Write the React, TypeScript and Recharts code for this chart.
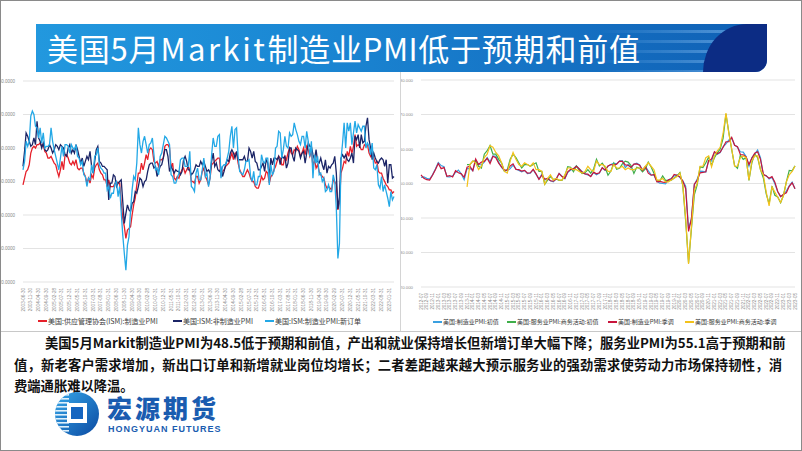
import React from "react";
import { LineChart, Line, XAxis, YAxis, CartesianGrid } from "recharts";

// ---------- LEFT CHART DATA (monthly, 2003-06 .. 2023-04) ----------
const LEFT_START_YEAR = 2003;
const LEFT_START_MONTH = 6;

const ismMfg = [
  49.0, 51.0, 53.0, 53.5, 55.0, 58.5, 60.0,
  60.5, 60.0, 61.0, 61.0, 61.5, 60.5, 61.0, 59.0, 58.5, 57.0, 57.0, 57.5,
  56.5, 55.5, 55.0, 53.0, 51.5, 53.5, 56.0, 53.5, 58.0, 58.0, 57.0, 55.5,
  55.0, 56.0, 55.0, 56.5, 54.0, 53.5, 54.0, 54.0, 52.5, 51.5, 49.5, 51.0,
  49.5, 52.0, 51.0, 54.0, 55.0, 55.5, 53.5, 52.5, 52.0, 50.5, 50.5, 48.5,
  50.5, 48.5, 48.5, 48.5, 49.5, 50.0, 49.5, 49.5, 43.5, 39.0, 36.5, 33.0,
  35.5, 36.0, 36.5, 40.0, 43.0, 45.0, 49.0, 52.5, 52.5, 55.5, 53.5, 55.5,
  58.0, 56.5, 59.5, 60.0, 59.5, 56.0, 55.5, 56.0, 54.5, 56.5, 56.5, 57.0,
  60.5, 61.0, 61.0, 60.0, 54.0, 55.5, 51.0, 50.5, 51.5, 51.0, 52.5, 53.5,
  54.0, 52.5, 53.5, 54.5, 53.5, 50.0, 50.0, 49.5, 51.5, 51.5, 49.5, 50.5,
  53.0, 54.0, 51.5, 50.5, 49.0, 51.0, 55.0, 55.5, 56.0, 56.5, 57.0, 57.0,
  51.5, 53.0, 53.5, 54.5, 55.0, 55.5, 57.0, 58.5, 56.5, 58.5, 58.5, 55.5,
  53.5, 52.5, 51.5, 51.5, 52.5, 53.5, 52.5, 51.0, 50.0, 50.0, 48.5, 48.0,
  48.0, 49.5, 51.5, 50.5, 51.0, 53.0, 52.5, 49.5, 51.5, 52.0, 53.5, 54.5,
  56.0, 57.5, 57.0, 55.0, 55.0, 57.5, 56.5, 58.5, 60.0, 58.5, 58.0, 59.5,
  59.0, 60.5, 59.5, 57.5, 58.5, 60.0, 58.0, 60.5, 59.5, 57.5, 59.0, 54.5,
  56.5, 54.0, 55.0, 53.0, 52.0, 51.5, 51.0, 49.0, 48.0, 48.5, 48.0, 47.5,
  50.5, 50.0, 49.0, 41.5, 43.5, 52.5, 54.0, 56.0, 55.5, 59.0, 57.5, 60.5,
  58.5, 60.5, 64.0, 60.5, 61.0, 60.5, 59.5, 59.5, 61.0, 60.5, 61.0, 58.5,
  57.5, 58.5, 57.0, 55.5, 56.0, 53.0, 52.5, 52.5, 51.0, 50.0, 49.0, 48.5,
  47.5, 47.5, 46.5, 47.0,
];

const ismNonMfg = [
  54.5, 59.0, 64.5, 63.5, 62.0, 60.5, 61.0,
  63.0, 61.0, 68.0, 63.0, 62.0, 60.0, 61.5, 59.5, 59.0, 59.5, 61.0, 60.0,
  58.5, 59.5, 61.0, 60.5, 59.5, 61.0, 60.5, 60.0, 58.0, 57.5, 60.0, 61.0,
  58.5, 59.5, 58.5, 61.0, 59.5, 57.5, 55.5, 57.0, 54.5, 56.0, 57.5, 56.5,
  59.0, 54.5, 52.5, 56.0, 59.5, 60.5, 56.0, 55.5, 54.5, 54.5, 54.0, 53.5,
  44.5, 49.5, 49.5, 52.0, 51.5, 48.5, 49.5, 50.0, 50.5, 44.0, 37.5, 40.5,
  43.0, 41.5, 41.0, 43.5, 44.0, 47.0, 46.5, 48.5, 51.0, 50.5, 48.5, 50.0,
  50.5, 53.0, 55.0, 55.5, 55.5, 54.0, 54.5, 51.5, 53.0, 54.5, 55.0, 57.0,
  59.5, 59.5, 57.5, 53.0, 54.5, 53.5, 52.5, 53.5, 53.0, 53.0, 52.0, 53.0,
  56.5, 57.5, 56.0, 53.5, 53.5, 52.0, 52.5, 53.5, 55.0, 54.5, 54.5, 56.0,
  55.0, 56.0, 54.5, 53.0, 53.5, 52.5, 56.0, 58.5, 54.5, 55.5, 53.5, 53.0,
  54.0, 51.5, 53.0, 55.0, 56.5, 56.0, 58.5, 59.5, 58.5, 57.0, 59.0, 56.5,
  56.5, 56.5, 56.5, 57.5, 56.0, 56.0, 60.0, 59.0, 57.0, 59.0, 56.0, 55.5,
  53.5, 53.5, 54.5, 55.5, 53.0, 56.5, 55.5, 51.5, 57.0, 55.0, 57.0, 57.0,
  56.5, 57.5, 55.0, 57.5, 57.0, 57.5, 54.0, 55.5, 60.0, 60.0, 57.5, 56.0,
  60.0, 59.5, 59.0, 57.0, 58.5, 59.0, 55.5, 58.5, 61.5, 60.5, 60.5, 58.0,
  56.5, 59.5, 56.0, 55.5, 57.0, 55.0, 53.5, 56.5, 52.5, 54.5, 54.0, 55.0,
  55.5, 57.5, 52.5, 41.8, 45.5, 57.0, 58.0, 57.0, 58.0, 56.5, 56.0, 57.0,
  58.5, 55.5, 63.5, 62.5, 64.0, 60.0, 64.0, 61.5, 62.0, 66.5, 69.0, 62.5,
  60.0, 56.5, 58.5, 57.0, 56.0, 55.5, 56.5, 57.0, 56.5, 54.5, 56.5, 49.5,
  55.0, 55.0, 51.0, 51.5,
];

const ismNewOrders = [
  53.5, 56.0, 62.0, 60.5, 62.0, 69.5, 71.0,
  70.0, 66.5, 66.0, 63.0, 66.0, 61.5, 64.5, 60.0, 60.5, 60.5, 61.0, 66.0,
  62.0, 59.5, 57.5, 55.5, 53.5, 57.0, 60.5, 57.5, 61.0, 61.0, 60.5, 58.5,
  61.0, 60.0, 59.5, 61.0, 57.5, 57.0, 55.0, 56.0, 52.0, 51.5, 48.5, 51.0,
  50.5, 55.0, 52.5, 57.5, 58.0, 60.0, 55.0, 54.0, 53.5, 52.5, 52.5, 47.5,
  48.5, 45.0, 46.5, 46.5, 49.5, 50.0, 45.5, 48.5, 41.0, 34.0, 28.5, 23.5,
  31.0, 33.5, 41.5, 47.5, 51.5, 50.5, 55.5, 66.0, 61.0, 58.5, 62.0, 63.5,
  61.0, 58.5, 61.0, 61.5, 63.0, 58.0, 53.5, 54.0, 52.0, 57.5, 58.5, 61.0,
  63.5, 63.0, 62.0, 61.0, 52.0, 51.5, 49.5, 49.5, 51.0, 52.5, 56.5, 57.0,
  57.0, 54.5, 54.5, 54.5, 59.0, 48.5, 48.0, 47.0, 52.5, 54.0, 50.5, 50.5,
  53.5, 57.0, 51.5, 52.5, 48.5, 51.0, 58.0, 63.0, 60.5, 60.5, 63.5, 64.0,
  51.0, 54.5, 55.0, 55.0, 57.0, 59.0, 63.5, 66.5, 60.0, 65.5, 66.0, 57.5,
  53.0, 52.5, 52.0, 53.5, 56.0, 56.0, 56.5, 51.5, 50.0, 53.0, 49.0, 49.0,
  51.5, 51.5, 58.0, 56.0, 55.5, 57.0, 57.0, 49.0, 55.0, 52.0, 53.0, 60.0,
  60.5, 65.0, 64.5, 57.0, 59.5, 63.5, 60.5, 60.0, 64.5, 63.5, 64.0, 67.5,
  65.5, 64.0, 62.0, 61.0, 63.5, 63.5, 60.0, 65.0, 62.0, 57.5, 62.0, 51.0,
  58.0, 55.5, 57.5, 52.0, 52.5, 50.0, 51.0, 47.0, 47.5, 49.0, 47.0, 47.0,
  52.0, 50.0, 42.0, 27.0, 31.5, 56.5, 61.5, 67.5, 60.0, 67.5, 65.0, 67.5,
  61.0, 64.5, 68.0, 64.5, 67.0, 66.0, 65.0, 66.5, 66.5, 60.0, 61.5, 60.5,
  58.0, 61.5, 54.0, 53.5, 55.0, 49.0, 48.0, 51.5, 47.0, 49.0, 47.0, 45.0,
  42.5, 47.0, 44.5, 45.5,
];

// ---------- RIGHT CHART DATA (monthly, 2012-07 .. 2023-05) ----------
const RIGHT_START_YEAR = 2012;
const RIGHT_START_MONTH = 7;
const SERVICES_OFFSET = 16; // services series begin 2013-11

const mfgFlash = [
  51.8, 51.9, 51.5, 51.3, 52.5, 54.2,
  56.1, 55.2, 54.9, 52.0, 51.9, 52.2, 53.2, 53.9, 52.8, 51.1, 54.3, 54.4,
  53.7, 56.7, 55.5, 55.4, 56.2, 57.5, 56.3, 58.0, 57.9, 56.2, 54.7, 53.7,
  53.7, 54.3, 55.3, 54.2, 53.8, 53.4, 53.8, 52.9, 53.0, 54.0, 52.6, 51.3,
  52.7, 51.0, 51.4, 50.8, 50.5, 51.4, 52.9, 52.1, 51.4, 53.2, 53.9, 54.2,
  55.1, 54.3, 53.4, 52.8, 52.5, 52.1, 53.2, 52.5, 53.0, 54.5, 53.8, 55.0,
  55.5, 55.9, 55.7, 56.5, 56.6, 54.6, 55.5, 54.5, 55.6, 55.9, 55.4, 53.9,
  54.9, 53.7, 52.5, 52.4, 50.6, 50.1, 50.0, 49.9, 51.0, 51.5, 52.2, 52.5,
  51.7, 50.8, 49.2, 36.9, 39.8, 49.6, 51.3, 53.6, 53.5, 53.3, 56.7, 56.5,
  59.1, 58.5, 59.0, 60.6, 61.5, 62.6, 63.1, 61.2, 60.5, 59.2, 59.1, 57.8,
  55.0, 57.5, 58.5, 59.7, 57.5, 52.4, 52.3, 51.3, 51.8, 49.9, 47.6, 46.2,
  46.8, 47.8, 49.3, 50.4, 48.5,
];

const mfgFinal = [
  52.5, 51.5, 51.1, 51.0, 52.4, 54.0,
  55.8, 54.3, 54.6, 52.1, 52.3, 51.9, 53.7, 53.1, 52.8, 51.8, 54.7, 55.0,
  53.7, 57.1, 55.5, 56.2, 56.4, 57.3, 55.8, 57.9, 57.5, 55.9, 54.8, 53.9,
  53.9, 55.1, 55.7, 54.1, 54.0, 53.6, 53.8, 53.0, 53.1, 54.1, 52.8, 51.2,
  52.4, 51.3, 51.5, 50.8, 50.7, 51.3, 52.9, 52.0, 51.5, 53.4, 54.1, 54.3,
  55.0, 54.2, 53.3, 52.8, 52.7, 52.0, 53.3, 52.8, 53.1, 54.6, 53.9, 55.1,
  55.5, 55.3, 55.6, 56.5, 56.4, 55.4, 55.3, 54.7, 55.6, 55.7, 55.3, 53.8,
  54.9, 53.0, 52.4, 52.6, 50.5, 50.6, 50.4, 50.3, 51.1, 51.3, 52.6, 52.4,
  51.9, 50.7, 48.5, 36.1, 39.8, 49.8, 50.9, 53.1, 53.2, 53.4, 56.7, 57.1,
  59.2, 58.6, 59.1, 60.5, 62.1, 62.1, 63.4, 61.1, 60.7, 58.4, 58.3, 57.7,
  55.5, 57.3, 58.8, 59.2, 57.0, 52.7, 52.2, 51.5, 52.0, 50.4, 47.7, 46.2,
  46.9, 47.3, 49.2, 50.2, 48.5,
];

const svcFlash = [
  55.5, 55.5,
  56.5, 56.5, 55.0, 54.5, 58.5, 59.5, 61.0, 58.5, 58.5, 57.0, 56.0, 53.5,
  54.0, 57.0, 58.5, 57.5, 56.0, 54.5, 55.5, 55.5, 55.0, 55.5, 56.0, 53.5,
  53.5, 49.8, 51.0, 52.0, 51.2, 51.3, 50.9, 50.9, 52.3, 54.9, 54.7, 53.4,
  55.1, 53.9, 52.9, 53.1, 54.0, 53.0, 54.2, 57.0, 55.1, 55.9, 54.7, 52.4,
  53.6, 55.9, 54.1, 54.4, 55.7, 56.5, 56.2, 55.2, 52.9, 54.7, 54.4, 53.4,
  54.2, 56.2, 54.8, 52.9, 50.9, 50.7, 52.2, 50.9, 50.9, 51.0, 51.6, 52.2,
  53.2, 49.4, 39.1, 27.0, 36.9, 46.7, 49.6, 54.8, 54.6, 56.0, 57.7, 55.3,
  57.5, 58.9, 60.0, 63.1, 70.1, 64.8, 59.8, 55.2, 54.4, 58.2, 57.0, 57.5,
  50.9, 56.0, 58.5, 57.5, 54.0, 51.6, 47.0, 44.1, 49.2, 46.6, 46.1, 44.4,
  46.6, 50.5, 53.8, 53.7, 55.1,
];

const svcFinal = [
  49.0, 55.5,
  56.5, 56.0, 54.0, 55.0, 57.5, 58.5, 61.0, 60.5, 59.0, 58.0, 56.0, 53.5,
  53.0, 56.5, 59.0, 57.0, 55.5, 55.0, 56.0, 55.5, 55.0, 56.0, 54.0, 54.0,
  53.5, 49.8, 51.5, 52.5, 51.0, 51.5, 51.0, 51.0, 52.5, 54.5, 54.5, 54.0,
  54.0, 53.5, 53.0, 53.5, 55.0, 54.0, 53.5, 56.5, 55.5, 55.5, 55.0, 53.5,
  53.5, 55.5, 54.5, 54.5, 55.0, 54.0, 54.5, 54.0, 54.0, 54.5, 54.5, 54.0,
  55.0, 56.0, 55.0, 54.0, 51.0, 51.0, 51.5, 50.5, 50.5, 51.0, 51.5, 52.0,
  53.0, 49.5, 40.0, 26.7, 37.5, 48.0, 50.0, 55.0, 55.0, 57.5, 58.0, 54.8,
  58.0, 59.5, 60.5, 64.5, 70.4, 64.5, 60.0, 55.0, 55.0, 57.5, 58.0, 57.5,
  51.0, 56.5, 58.0, 58.0, 54.0, 52.5, 47.5, 43.5, 49.0, 47.5, 46.0, 44.5,
  46.5, 50.5, 52.5, 53.5, 55.1,
];

const Y_TICKS = [20, 30, 40, 50, 60, 70, 80];

const LEFT_LEGEND = [
  { name: "美国:供应管理协会(ISM):制造业PMI", color: "#e6202a", x: 38 },
  { name: "美国:ISM:非制造业PMI", color: "#1b2466", x: 173 },
  { name: "美国:ISM:制造业PMI:新订单", color: "#23a8e6", x: 265 },
];
const RIGHT_LEGEND = [
  { name: "美国:制造业PMI:初值", color: "#3aa0e0", x: 433 },
  { name: "美国:服务业PMI:商务活动:初值", color: "#3fae49", x: 507 },
  { name: "美国:制造业PMI:季调", color: "#c8153c", x: 608 },
  { name: "美国:服务业PMI:商务活动:季调", color: "#f3c21b", x: 685 },
];

const PARA_LINES = [
  "美国5月Markit制造业PMI为48.5低于预期和前值，产出和就业保持增长但新增订单大幅下降；服务业PMI为55.1高于预期和前",
  "值，新老客户需求增加，新出口订单和新增就业岗位均增长；二者差距越来越大预示服务业的强劲需求使劳动力市场保持韧性，消",
  "费端通胀难以降温。",
];

// ---------- helpers ----------
function monthLabels(y0: number, m0: number, n: number, withDay: boolean): string[] {
  const out: string[] = [];
  for (let i = 0; i < n; i++) {
    const idx = m0 - 1 + i;
    const y = y0 + Math.floor(idx / 12);
    const m = (idx % 12) + 1;
    const d = new Date(y, m, 0).getDate();
    out.push(withDay ? `${y}-${String(m).padStart(2, "0")}-${d}` : `${y}-${String(m).padStart(2, "0")}`);
  }
  return out;
}

const leftDates = monthLabels(LEFT_START_YEAR, LEFT_START_MONTH, ismMfg.length, true);
const rightDates = monthLabels(RIGHT_START_YEAR, RIGHT_START_MONTH, mfgFinal.length, false);

const leftData = leftDates.map((d, i) => ({
  date: d,
  mfg: ismMfg[i],
  nonMfg: ismNonMfg[i],
  newOrders: ismNewOrders[i],
}));

const rightData = rightDates.map((d, i) => ({
  date: d,
  mfgFlash: mfgFlash[i],
  svcFlash: i >= SERVICES_OFFSET ? svcFlash[i - SERVICES_OFFSET] : null,
  mfgFinal: mfgFinal[i],
  svcFinal: i >= SERVICES_OFFSET ? svcFinal[i - SERVICES_OFFSET] : null,
}));

const DateTick = (props: any) => {
  const { x, y, payload, fs } = props;
  return (
    <text
      transform={`translate(${x},${y + 4}) rotate(-90)`}
      textAnchor="end"
      dominantBaseline="central"
      fontSize={fs}
      fill="#8a8a8a"
      fontFamily="'Liberation Sans', Arial, sans-serif"
    >
      {payload.value}
    </text>
  );
};

const CJK = "'Noto Sans CJK SC', sans-serif";

function LegendRow({ items, fontSize, top }: { items: any[]; fontSize: number; top: number }) {
  return (
    <>
      {items.map((it) => (
        <div
          key={it.name}
          style={{
            position: "absolute",
            left: it.x,
            top,
            height: 12,
            display: "flex",
            alignItems: "center",
            whiteSpace: "nowrap",
          }}
        >
          <div style={{ width: 9, height: 2, background: it.color, marginRight: 1 }} />
          <span style={{ fontSize, color: "#3a3a3a", fontFamily: CJK, lineHeight: "12px" }}>{it.name}</span>
        </div>
      ))}
    </>
  );
}

export default function App() {
  return (
    <div
      style={{
        position: "fixed",
        left: 0,
        top: 0,
        width: 802,
        height: 451,
        background: "#ffffff",
        overflow: "hidden",
        fontFamily: CJK,
      }}
    >
      {/* Title bar */}
      <div
        style={{
          position: "absolute",
          left: 36,
          top: 24,
          width: 731,
          height: 48,
          background: "linear-gradient(90deg, #2298de 0%, #1b88d4 35%, #1572c4 70%, #0f5fb4 100%)",
          borderBottomRightRadius: 12,
          overflow: "hidden",
        }}
      >
        <div
          style={{
            position: "absolute",
            left: 560,
            top: 0,
            width: 171,
            height: 48,
            background:
              "repeating-linear-gradient(180deg, rgba(0,0,0,0) 0px, rgba(0,0,0,0) 6px, rgba(140,195,245,0.45) 6px, rgba(140,195,245,0.45) 9px, rgba(0,0,0,0) 9px, rgba(0,0,0,0) 10px)",
            WebkitMaskImage: "linear-gradient(90deg, rgba(0,0,0,0), rgba(0,0,0,1) 70%)",
            maskImage: "linear-gradient(90deg, rgba(0,0,0,0), rgba(0,0,0,1) 70%)",
          }}
        />
        <div
          style={{
            position: "absolute",
            left: 667,
            top: 0,
            width: 64,
            height: 48,
            background: "#0c2c84",
            borderTopLeftRadius: "44px 48px",
          }}
        />
        <div
          style={{
            position: "absolute",
            left: 11,
            top: 0,
            height: 48,
            lineHeight: "48px",
            fontSize: 31,
            color: "#ffffff",
            whiteSpace: "nowrap",
            letterSpacing: 0.8,
            fontFamily: "'Liberation Sans Narrow', 'Noto Sans CJK SC', sans-serif",
          }}
        >
          美国5月<span style={{ letterSpacing: 2.5 }}>Markit</span>制造业<span style={{ letterSpacing: 0.5 }}>PMI</span>低于预期和前值
        </div>
      </div>

      {/* Left chart */}
      <div style={{ position: "absolute", left: 0, top: 72 }}>
        <LineChart width={400} height={258} data={leftData} margin={{ top: 9, right: 6, bottom: 18, left: 0 }}>
          <CartesianGrid vertical={false} stroke="#dcdcdc" strokeWidth={0.8} />
          <XAxis
            dataKey="date"
            interval={4}
            height={30}
            tickLine={false}
            axisLine={false}
            tickSize={0}
            tick={<DateTick fs={4.6} />}
          />
          <YAxis
            domain={[20, 80]}
            ticks={Y_TICKS}
            width={23}
            tickLine={false}
            axisLine={false}
            tickMargin={2}
            tick={{ fontSize: 4.5, fill: "#8a8a8a", fontFamily: "'Liberation Sans', Arial" }}
            tickFormatter={(v: number) => v.toFixed(4)}
          />
          <Line type="linear" dataKey="mfg" stroke="#e6202a" strokeWidth={1.3} dot={false} isAnimationActive={false} />
          <Line type="linear" dataKey="nonMfg" stroke="#1b2466" strokeWidth={1.3} dot={false} isAnimationActive={false} />
          <Line type="linear" dataKey="newOrders" stroke="#23a8e6" strokeWidth={1.3} dot={false} isAnimationActive={false} />
        </LineChart>
      </div>

      {/* Right chart */}
      <div style={{ position: "absolute", left: 400, top: 72 }}>
        <LineChart width={400} height={258} data={rightData} margin={{ top: 8, right: 5, bottom: 15, left: 0 }}>
          <CartesianGrid vertical={false} stroke="#dcdcdc" strokeWidth={0.8} />
          <XAxis
            dataKey="date"
            interval={1}
            height={28}
            tickLine={false}
            axisLine={false}
            tickSize={0}
            tick={<DateTick fs={4.6} />}
          />
          <YAxis
            domain={[20, 80]}
            ticks={Y_TICKS}
            width={21}
            tickLine={false}
            axisLine={false}
            tickMargin={2}
            tick={{ fontSize: 4.3, fill: "#8a8a8a", fontFamily: "'Liberation Sans', Arial" }}
            tickFormatter={(v: number) => v.toFixed(3)}
          />
          <Line type="linear" dataKey="mfgFlash" stroke="#3aa0e0" strokeWidth={1.2} dot={false} isAnimationActive={false} />
          <Line type="linear" dataKey="svcFlash" stroke="#3fae49" strokeWidth={1.2} dot={false} isAnimationActive={false} />
          <Line type="linear" dataKey="mfgFinal" stroke="#c8153c" strokeWidth={1.2} dot={false} isAnimationActive={false} />
          <Line type="linear" dataKey="svcFinal" stroke="#f3c21b" strokeWidth={1.2} dot={false} isAnimationActive={false} />
        </LineChart>
      </div>

      {/* Legends */}
      <LegendRow items={LEFT_LEGEND} fontSize={7} top={315} />
      <LegendRow items={RIGHT_LEGEND} fontSize={6} top={316} />

      {/* Panel dividers */}
      <div style={{ position: "absolute", left: 400, top: 72, width: 1, height: 259, background: "#d4d4d4" }} />
      <div style={{ position: "absolute", left: 0, top: 331, width: 802, height: 1, background: "#c8c8c8" }} />

      {/* Paragraph */}
      {PARA_LINES.map((line, i) => (
        <div
          key={i}
          style={{
            position: "absolute",
            left: i === 0 ? 45 : 14,
            top: [333, 355, 376][i],
            width: i === 0 ? 736 : i === 1 ? 768 : 400,
            height: 20,
            lineHeight: "20px",
            fontSize: 13.3,
            fontWeight: 700,
            color: "#111111",
            whiteSpace: "nowrap",
            textAlign: i < 2 ? "justify" : "left",
            textAlignLast: i < 2 ? "justify" : "left",
            fontFamily: "'Noto Sans CJK SC', sans-serif",
          } as React.CSSProperties}
        >
          {line}
        </div>
      ))}

      {/* Logo */}
      <svg style={{ position: "absolute", left: 53, top: 391 }} width={50} height={46}>
        <defs>
          <linearGradient id="lg" x1="0" y1="0" x2="1" y2="1">
            <stop offset="0" stopColor="#36a6e8" />
            <stop offset="1" stopColor="#0b4aa2" />
          </linearGradient>
          <clipPath id="cc">
            <circle cx={24} cy={23} r={22} />
          </clipPath>
        </defs>
        <circle cx={24} cy={23} r={22} fill="url(#lg)" />
        <g clipPath="url(#cc)">
          {[3, 7, 11, 15, 19, 23, 27, 31, 35, 39].map((yy) => (
            <rect key={yy} x={0} y={yy} width={16} height={1.6} fill="#dff0fb" />
          ))}
        </g>
        <rect x={14} y={12} width={20} height={20} fill="#ffffff" />
        <rect x={18} y={16} width={12} height={12} fill="#1565c0" />
      </svg>
      <div
        style={{
          position: "absolute",
          left: 107,
          top: 395,
          fontSize: 25,
          lineHeight: "25px",
          fontWeight: 900,
          color: "#1a5cb0",
          letterSpacing: 3,
          whiteSpace: "nowrap",
        }}
      >
        宏源期货
      </div>
      <div
        style={{
          position: "absolute",
          left: 108,
          top: 424,
          fontSize: 9,
          lineHeight: "10px",
          fontWeight: 700,
          color: "#1a5cb0",
          letterSpacing: 1,
          whiteSpace: "nowrap",
          fontFamily: "'Liberation Sans', Arial, sans-serif",
        }}
      >
        HONGYUAN FUTURES
      </div>

      {/* Slide border */}
      <div
        style={{
          position: "absolute",
          left: 0,
          top: 0,
          width: 802,
          height: 451,
          boxSizing: "border-box",
          border: "1.5px solid #8a8a8a",
          pointerEvents: "none",
        }}
      />
    </div>
  );
}
